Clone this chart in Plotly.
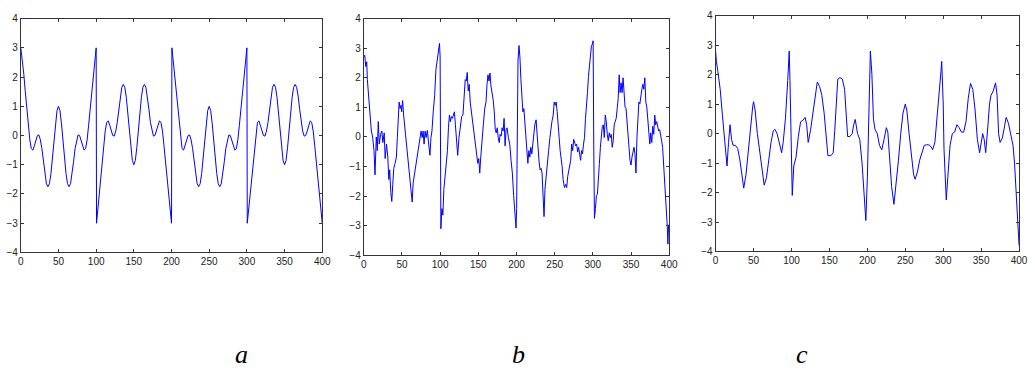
import plotly.graph_objects as go

# ---------------- panel a ----------------
xa = [0, 2, 4, 6, 8, 10, 12, 14, 16, 18, 20, 22, 24, 26, 28, 30, 32, 34, 36, 38, 40,
      42, 44, 46, 48, 50, 52, 54, 56, 58, 60, 62, 64, 66, 68, 70, 72, 74, 76, 78, 80,
      82, 84, 86, 88, 90, 92, 94, 96, 98, 100, 100.5, 102, 104, 106, 108, 110, 112, 114,
      116, 118, 120, 122, 124, 126, 128, 130, 132, 134, 136, 138, 140, 142, 144, 146, 148,
      150, 152, 154, 156, 158, 160, 162, 164, 166, 168, 170, 172, 174, 176, 178, 180, 182,
      184, 186, 188, 190, 192, 194, 196, 198, 200, 200.5, 202, 204, 206, 208, 210, 212, 214,
      216, 218, 220, 222, 224, 226, 228, 230, 232, 234, 236, 238, 240, 242, 244, 246, 248,
      250, 252, 254, 256, 258, 260, 262, 264, 266, 268, 270, 272, 274, 276, 278, 280, 282,
      284, 286, 288, 290, 292, 294, 296, 298, 300, 300.5, 302, 304, 306, 308, 310, 312, 314,
      316, 318, 320, 322, 324, 326, 328, 330, 332, 334, 336, 338, 340, 342, 344, 346, 348,
      350, 352, 354, 356, 358, 360, 362, 364, 366, 368, 370, 372, 374, 376, 378, 380, 382,
      384, 386, 388, 390, 392, 394, 396, 398, 400]
ya = [3.0, 2.6, 2.1, 1.5, 0.9, 0.35, -0.15, -0.45, -0.5, -0.35, -0.15, 0.0, 0.02, -0.15,
      -0.45, -0.9, -1.35, -1.65, -1.75, -1.65, -1.3, -0.8, -0.2, 0.4, 0.85, 1.0, 0.85, 0.4,
      -0.2, -0.8, -1.3, -1.65, -1.75, -1.65, -1.35, -0.9, -0.45, -0.15, 0.02, 0.0, -0.15,
      -0.35, -0.5, -0.45, -0.15, 0.35, 0.9, 1.5, 2.1, 2.6, 3.0,
      -3.0, -2.6, -2.1, -1.5, -0.9, -0.35, 0.15, 0.45, 0.5, 0.35, 0.15, 0.0, -0.02, 0.15,
      0.45, 0.9, 1.35, 1.65, 1.75, 1.65, 1.3, 0.8, 0.2, -0.4, -0.85, -1.0, -0.85, -0.4,
      0.2, 0.8, 1.3, 1.65, 1.75, 1.65, 1.35, 0.9, 0.45, 0.15, -0.02, 0.0, 0.15, 0.35, 0.5,
      0.45, 0.15, -0.35, -0.9, -1.5, -2.1, -2.6, -3.0,
      3.0, 2.6, 2.1, 1.5, 0.9, 0.35, -0.15, -0.45, -0.5, -0.35, -0.15, 0.0, 0.02, -0.15,
      -0.45, -0.9, -1.35, -1.65, -1.75, -1.65, -1.3, -0.8, -0.2, 0.4, 0.85, 1.0, 0.85, 0.4,
      -0.2, -0.8, -1.3, -1.65, -1.75, -1.65, -1.35, -0.9, -0.45, -0.15, 0.02, 0.0, -0.15,
      -0.35, -0.5, -0.45, -0.15, 0.35, 0.9, 1.5, 2.1, 2.6, 3.0,
      -3.0, -2.6, -2.1, -1.5, -0.9, -0.35, 0.15, 0.45, 0.5, 0.35, 0.15, 0.0, -0.02, 0.15,
      0.45, 0.9, 1.35, 1.65, 1.75, 1.65, 1.3, 0.8, 0.2, -0.4, -0.85, -1.0, -0.85, -0.4,
      0.2, 0.8, 1.3, 1.65, 1.75, 1.65, 1.35, 0.9, 0.45, 0.15, -0.02, 0.0, 0.15, 0.35, 0.5,
      0.45, 0.15, -0.35, -0.9, -1.5, -2.1, -2.6, -3.0]

# ---------------- panel b (noisy) ----------------
xb = [0, 1.3, 2.6, 3.9, 4.7, 6.5, 8.2, 9.9, 11.6, 13.4, 14.7, 16.4, 17.7, 19.0, 20.3, 22.0,
      23.7, 25.0, 26.8, 28.0, 29.8, 31.5, 32.8, 34.0, 35.4, 36.7, 38.0, 39.3, 41.0, 42.7,
      44.0, 45.4, 46.3, 47.5, 48.8, 49.6, 50.9, 52.2, 53.9, 55.7, 57.4, 59.1, 60.8, 62.1,
      63.4, 64.7, 66.4, 68.2, 69.9, 71.6, 72.9, 74.2, 75.1, 76.4, 77.7, 79.0, 80.3, 81.6,
      83.3, 85.0, 86.7, 88.0, 89.3, 91.0, 92.8, 94.5, 96.2, 97.9, 99.2, 100.0, 101.0,
      102.3, 103.6, 104.9, 106.6, 107.9, 109.6, 110.9, 112.2, 113.5, 114.8, 116.1, 117.4,
      118.7, 120.0, 121.3, 123.0, 124.7, 126.4, 128.2, 129.9, 131.6, 132.9, 134.2, 135.5,
      136.8, 138.1, 139.4, 141.1, 142.8, 144.6, 146.3, 148.0, 149.3, 150.6, 151.9, 153.2,
      154.9, 156.6, 158.4, 160.1, 161.4, 162.7, 164.0, 165.3, 166.6, 168.3, 169.6, 170.9,
      172.2, 173.5, 174.8, 176.1, 177.4, 178.6, 180.0, 181.2, 182.5, 183.8, 185.1, 186.4,
      187.7, 189.4, 191.2, 192.9, 194.6, 196.3, 198.1, 199.4, 200.2, 201.1, 202.0, 203.3,
      204.5, 205.8, 207.1, 208.4, 209.7, 211.0, 212.3, 213.6, 214.9, 216.2, 217.5, 218.8,
      220.1, 221.4, 222.7, 224.0, 225.7, 227.0, 228.3, 229.6, 230.9, 232.2, 233.5, 234.8,
      236.1, 237.3, 238.6, 240.4, 242.1, 243.8, 245.1, 246.4, 248.1, 249.4, 250.7, 252.0,
      253.3, 254.6, 255.9, 257.2, 258.5, 259.8, 261.1, 262.8, 264.5, 265.8, 267.1, 268.4,
      269.7, 271.0, 272.3, 273.6, 274.9, 276.2, 277.5, 278.8, 280.1, 281.4, 282.7, 284.0,
      285.2, 286.5, 287.8, 289.1, 290.4, 291.7, 293.0, 294.3, 295.6, 296.9, 298.2, 299.5,
      300.4, 301.2, 302.1, 303.4, 304.7, 306.0, 307.3, 308.6, 309.9, 311.1, 312.4, 313.7,
      315.0, 316.3, 317.6, 318.9, 320.2, 321.5, 322.8, 324.1, 325.4, 326.7, 328.0, 329.3,
      330.6, 331.9, 333.2, 334.5, 335.7, 337.0, 338.3, 339.6, 340.9, 342.2, 343.5, 344.8,
      346.1, 347.4, 348.7, 350.0, 351.3, 352.6, 353.9, 355.2, 356.5, 357.8, 359.0, 360.3,
      361.6, 362.9, 364.2, 365.5, 366.8, 368.1, 369.4, 370.7, 372.0, 373.3, 374.6, 375.9,
      377.2, 378.5, 379.8, 381.1, 382.3, 383.6, 384.9, 386.2, 387.5, 388.8, 390.1, 391.4,
      392.7, 394.0, 395.3, 396.6, 397.5, 398.3, 399.2, 400.0]
yb = [2.7, 2.76, 2.38, 2.54, 1.94, 1.34, 0.9, 0.2, 0.0, -0.46, -1.28, 0.0, -0.46, 0.52,
      -0.24, 0.09, 0.2, -0.19, 0.14, -0.73, -0.24, -0.68, -1.44, -1.11, -1.88, -2.18, -1.6,
      -1.06, -0.89, -0.68, -0.02, 0.85, 1.18, 0.96, 1.07, 0.85, 1.23, 0.74, 0.3, -0.24,
      -0.68, -1.11, -1.44, -1.82, -2.2, -1.55, -1.28, -1.0, -0.68, -0.46, -0.19, 0.03, 0.2,
      -0.02, 0.2, -0.24, 0.2, -0.02, 0.22, -0.24, -0.62, -0.02, 0.2, 0.85, 1.4, 2.27, 2.6,
      2.87, 3.16, 2.7, -3.1,
      -2.42, -2.64, -1.77, -1.33, -1.0, -0.46, 0.31, 0.74, 0.52, 0.69, 0.63, 0.74, 0.85,
      0.41, -0.02, -0.62, -0.02, 0.36, 0.69, 0.74, 1.29, 1.94, 1.89, 2.18, 1.56, 1.78, 1.18,
      0.8, 0.63, 0.2, -0.24, -0.68, -0.89, -0.73, -1.22, -0.68, -0.24, 0.41, 0.96, 1.18,
      1.78, 2.1, 1.89, 2.16, 1.72, 1.5, 1.23, 0.85, 0.25, 0.14, 0.31, -0.02, -0.19, 0.09,
      0.03, 0.31, 0.2, 0.63, -0.3, 0.25, 0.31, -0.02, -0.24, -0.79, -1.22, -1.98, -2.64,
      -3.08, -2.42, -0.24, 2.6, 3.09, 2.7, 1.94, 1.29, 0.85, 0.96, 0.41, -0.02, -0.68,
      -0.89, -0.46, -0.68, -0.35, -0.57, -0.24, 0.09, 0.41, 0.58, -0.02, -0.46, -0.84,
      -1.11, -1.06, -1.22, -1.98, -2.69, -1.77, -1.33, -0.89, -0.46, -0.02, 0.36, 0.52,
      0.74, 1.18, 1.07, 1.18, 0.85, 0.52, -0.02, -0.46, -0.68, -1.0, -1.44, -1.71, -1.6,
      -1.71, -1.33, -1.11, -1.0, -0.79, -0.24, -0.46, -0.08, -0.19, -0.3, -0.24, -0.51,
      -0.35, -0.57, -0.79, -0.46, -0.57, -0.24, -0.02, 0.63, 0.96, 1.5, 2.05, 2.49, 2.81,
      3.09, 3.14, 3.25, -0.24, -2.75, -2.42, -1.98, -1.93, -1.55, -0.89, -0.35, 0.09, 0.36,
      0.41, -0.02, 0.74, 0.52, 0.09, -0.13, 0.14, -0.02, 0.09, -0.35, -0.13, 0.41, 0.52,
      0.63, 0.96, 1.29, 2.1, 1.5, 1.83, 1.5, 2.0, 1.5, 1.01, 0.96, 0.41, -0.02, -0.35,
      -0.79, -0.95, -0.68, -0.46, -0.35, -0.57, -1.22, -0.02, 0.85, 1.18, 1.12, 1.5, 1.61,
      1.78, 1.61, 2.0, 1.18, 1.01, 0.63, 0.2, -0.24, 0.14, -0.19, 0.36, 0.09, 0.74, 0.41,
      0.52, 0.36, 0.2, 0.25, -0.02, -0.13, -0.35, -0.89, -1.44, -1.88, -2.64, -3.02, -3.62,
      -2.97, -3.08]

# ---------------- panel c ----------------
xc = [0, 1, 3, 6, 9, 12, 15, 17, 19, 21, 23, 26, 29, 32, 35, 37, 40, 43, 46, 49, 50, 52,
      55, 58, 61, 64, 67, 70, 73, 76, 78, 81, 84, 87, 89, 92, 95, 97, 98, 99, 100, 101,
      103, 106, 109, 112, 115, 118, 120, 122, 125, 128, 131, 134, 137, 140, 143, 146, 148,
      152, 155, 157, 159, 161, 164, 167, 170, 172, 174, 177, 180, 182, 184, 187, 190, 193,
      196, 198, 200, 202, 204, 206, 208, 210, 213, 216, 219, 222, 225, 227, 229, 232, 235,
      238, 241, 244, 247, 250, 252, 255, 258, 261, 263, 266, 269, 272, 275, 278, 281, 284,
      286, 289, 292, 295, 297, 298, 300, 301, 303, 304, 306, 309, 312, 315, 318, 321, 324,
      327, 330, 333, 336, 339, 342, 345, 348, 350, 352, 354, 356, 359, 361, 363, 366, 369,
      371, 373, 375, 378, 381, 383, 386, 389, 392, 394, 396, 398, 399, 400]
yc = [2.8, 2.45, 2.1, 1.5, 0.6, -0.3, -1.1, -0.3, 0.3, -0.2, -0.4, -0.4, -0.5, -0.9,
      -1.6, -1.85, -1.4, -0.6, 0.4, 0.95, 1.08, 0.8, 0.0, -0.6, -1.3, -1.75, -1.5, -0.9,
      -0.3, 0.1, 0.15, 0.0, -0.3, -0.65, -0.3, 0.5, 1.8, 2.8, 1.8, 0.4, -1.0, -2.1, -1.1,
      -0.8, -0.1, 0.4, 0.45, 0.55, 0.3, -0.3, 0.1, 0.6, 1.2, 1.75, 1.6, 1.3, 0.7, -0.2,
      -0.75, -0.75, -0.65, 0.1, 1.2, 1.85, 1.9, 1.85, 1.5, 0.5, -0.1, -0.1, 0.0, 0.3, 0.48,
      0.0, -0.2, -1.0, -2.0, -2.95, -1.5, 0.5, 2.8, 2.0, 0.5, 0.15, 0.0, -0.4, -0.55, -0.2,
      0.2, 0.05, -0.7, -1.8, -2.4, -1.7, -0.9, 0.0, 0.7, 1.0, 0.8, 0.0, -0.8, -1.4, -1.55,
      -1.3, -0.9, -0.6, -0.4, -0.38, -0.38, -0.45, -0.55, -0.3, 0.5, 1.5, 2.1, 2.45, 1.0,
      -0.5, -2.0, -2.25, -1.5, -0.4, 0.0, 0.05, 0.3, 0.2, 0.05, 0.05, 0.4, 1.2, 1.7, 1.5,
      0.8, -0.2, -0.65, -0.3, 0.0, -0.2, -0.65, 0.3, 1.0, 1.3, 1.45, 1.72, 1.3, 0.0, -0.3,
      -0.15, 0.3, 0.55, 0.35, -0.05, -0.4, -1.0, -2.0, -3.2, -3.7, -3.8]

x_ticks = [0, 50, 100, 150, 200, 250, 300, 350, 400]
y_ticks = [-4, -3, -2, -1, 0, 1, 2, 3, 4]
labels = ["a", "b", "c"]

W, H = 1035, 372
# plot-area boxes in pixels (left, right, top, bottom)
boxes = [(18, 323, 14, 255), (365, 674, 14, 258), (721, 1028, 11, 254)]
label_x = [241, 522, 808]

fig = go.Figure()
series = [(xa, ya), (xb, yb), (xc, yc)]
for i, ((xs, ys), (l, r, t, b)) in enumerate(zip(series, boxes)):
    n = "" if i == 0 else str(i + 1)
    fig.add_trace(go.Scatter(x=xs, y=ys, mode="lines",
                             line=dict(color="#0000ff", width=1),
                             xaxis="x" + n, yaxis="y" + n, showlegend=False,
                             hoverinfo="skip"))
    common = dict(showgrid=False, zeroline=False, ticks="inside", ticklen=3,
                  tickcolor="#333", showline=True, linecolor="#333", linewidth=1,
                  mirror="ticks",
                  tickfont=dict(family="Liberation Sans, Arial", size=10, color="#222"))
    fig.update_layout(**{
        "xaxis" + n: dict(domain=[l / W, r / W], range=[0, 400], tickvals=x_ticks,
                          anchor="y" + n, **common),
        "yaxis" + n: dict(domain=[1 - b / H, 1 - t / H], range=[-4, 4], tickvals=y_ticks,
                          anchor="x" + n, **common),
    })
    fig.add_annotation(x=label_x[i] / W, y=1 - 360 / H, xref="paper", yref="paper",
                       xanchor="center", yanchor="middle",
                       text=labels[i], showarrow=False,
                       font=dict(family="Liberation Serif, Times New Roman", size=26,
                                 color="#000", style="italic"))

fig.update_layout(width=W, height=H, margin=dict(l=0, r=0, t=0, b=0),
                  paper_bgcolor="white", plot_bgcolor="white")
fig.write_html("out.html")
